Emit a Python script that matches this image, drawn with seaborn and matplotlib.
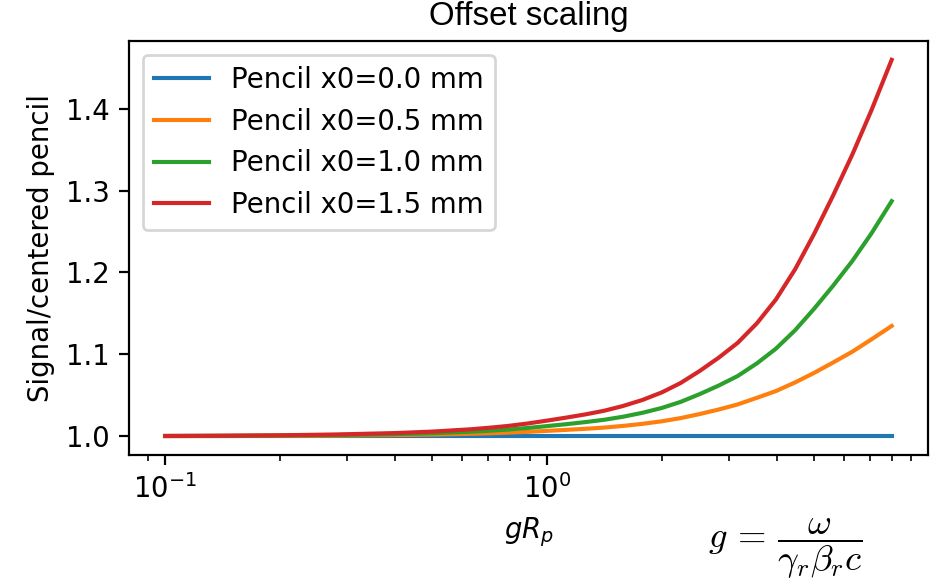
import numpy as np
import pandas as pd
import matplotlib
matplotlib.use("Agg")
import matplotlib.pyplot as plt
import seaborn as sns

# ---- data ----
g_values = [0.1, 0.14, 0.2, 0.28, 0.4, 0.5, 0.63, 0.71, 0.79, 0.89,
            1.0, 1.12, 1.26, 1.41, 1.58, 1.78, 2.0, 2.24, 2.51, 2.82,
            3.16, 3.55, 3.98, 4.47, 5.01, 5.62, 6.31, 7.08, 8.0]
ratio_x0_00 = [1.0] * 29
ratio_x0_05 = [1.0001, 1.0002, 1.0004, 1.0007, 1.0013, 1.0019, 1.0029, 1.0035, 1.0043, 1.0053,
               1.0065, 1.0077, 1.0090, 1.0105, 1.0125, 1.0151, 1.0182, 1.0221, 1.0270, 1.0326,
               1.0388, 1.0469, 1.0551, 1.0657, 1.0773, 1.0900, 1.1032, 1.1182, 1.1346]
ratio_x0_10 = [1.0002, 1.0004, 1.0007, 1.0014, 1.0025, 1.0036, 1.0054, 1.0067, 1.0081, 1.0100,
               1.0123, 1.0146, 1.0172, 1.0200, 1.0237, 1.0286, 1.0345, 1.0419, 1.0513, 1.0619,
               1.0735, 1.0890, 1.1069, 1.1295, 1.1556, 1.1838, 1.2140, 1.2476, 1.2870]
ratio_x0_15 = [1.0003, 1.0006, 1.0011, 1.0021, 1.0038, 1.0056, 1.0084, 1.0104, 1.0125, 1.0155,
               1.0190, 1.0226, 1.0266, 1.0310, 1.0368, 1.0443, 1.0535, 1.0650, 1.0795, 1.0960,
               1.1140, 1.1380, 1.1670, 1.2040, 1.2470, 1.2940, 1.3440, 1.3980, 1.4596]
labels = ["Pencil x0=0.0 mm", "Pencil x0=0.5 mm", "Pencil x0=1.0 mm", "Pencil x0=1.5 mm"]
colors = ["#1f77b4", "#ff7f0e", "#2ca02c", "#d62728"]

series = [ratio_x0_00, ratio_x0_05, ratio_x0_10, ratio_x0_15]

DPI = 198
fig = plt.figure(figsize=(936 / DPI, 586 / DPI), dpi=DPI)
ax = fig.add_axes([129 / 936, 1 - 455 / 586, (928 - 129) / 936, (455 - 41) / 586])

for lab, col, vals in zip(labels, colors, series):
    df = pd.DataFrame({"g": g_values, "ratio": vals})
    sns.lineplot(data=df, x="g", y="ratio", color=col, label=lab, ax=ax)

ax.set_xscale("log")
ax.set_xlabel("$gR_p$")
ax.set_ylabel("Signal/centered pencil")
ax.set_title("Offset scaling", fontfamily="Liberation Sans")
ax.legend(loc="upper left")

fig.text(785 / 936, 1 - 549 / 586, r"$g\, =\, \dfrac{\omega}{\gamma_r\beta_r c}$",
         fontsize=13.3, ha="center", va="center", math_fontfamily="cm")

fig.savefig("out.png", dpi=DPI)
